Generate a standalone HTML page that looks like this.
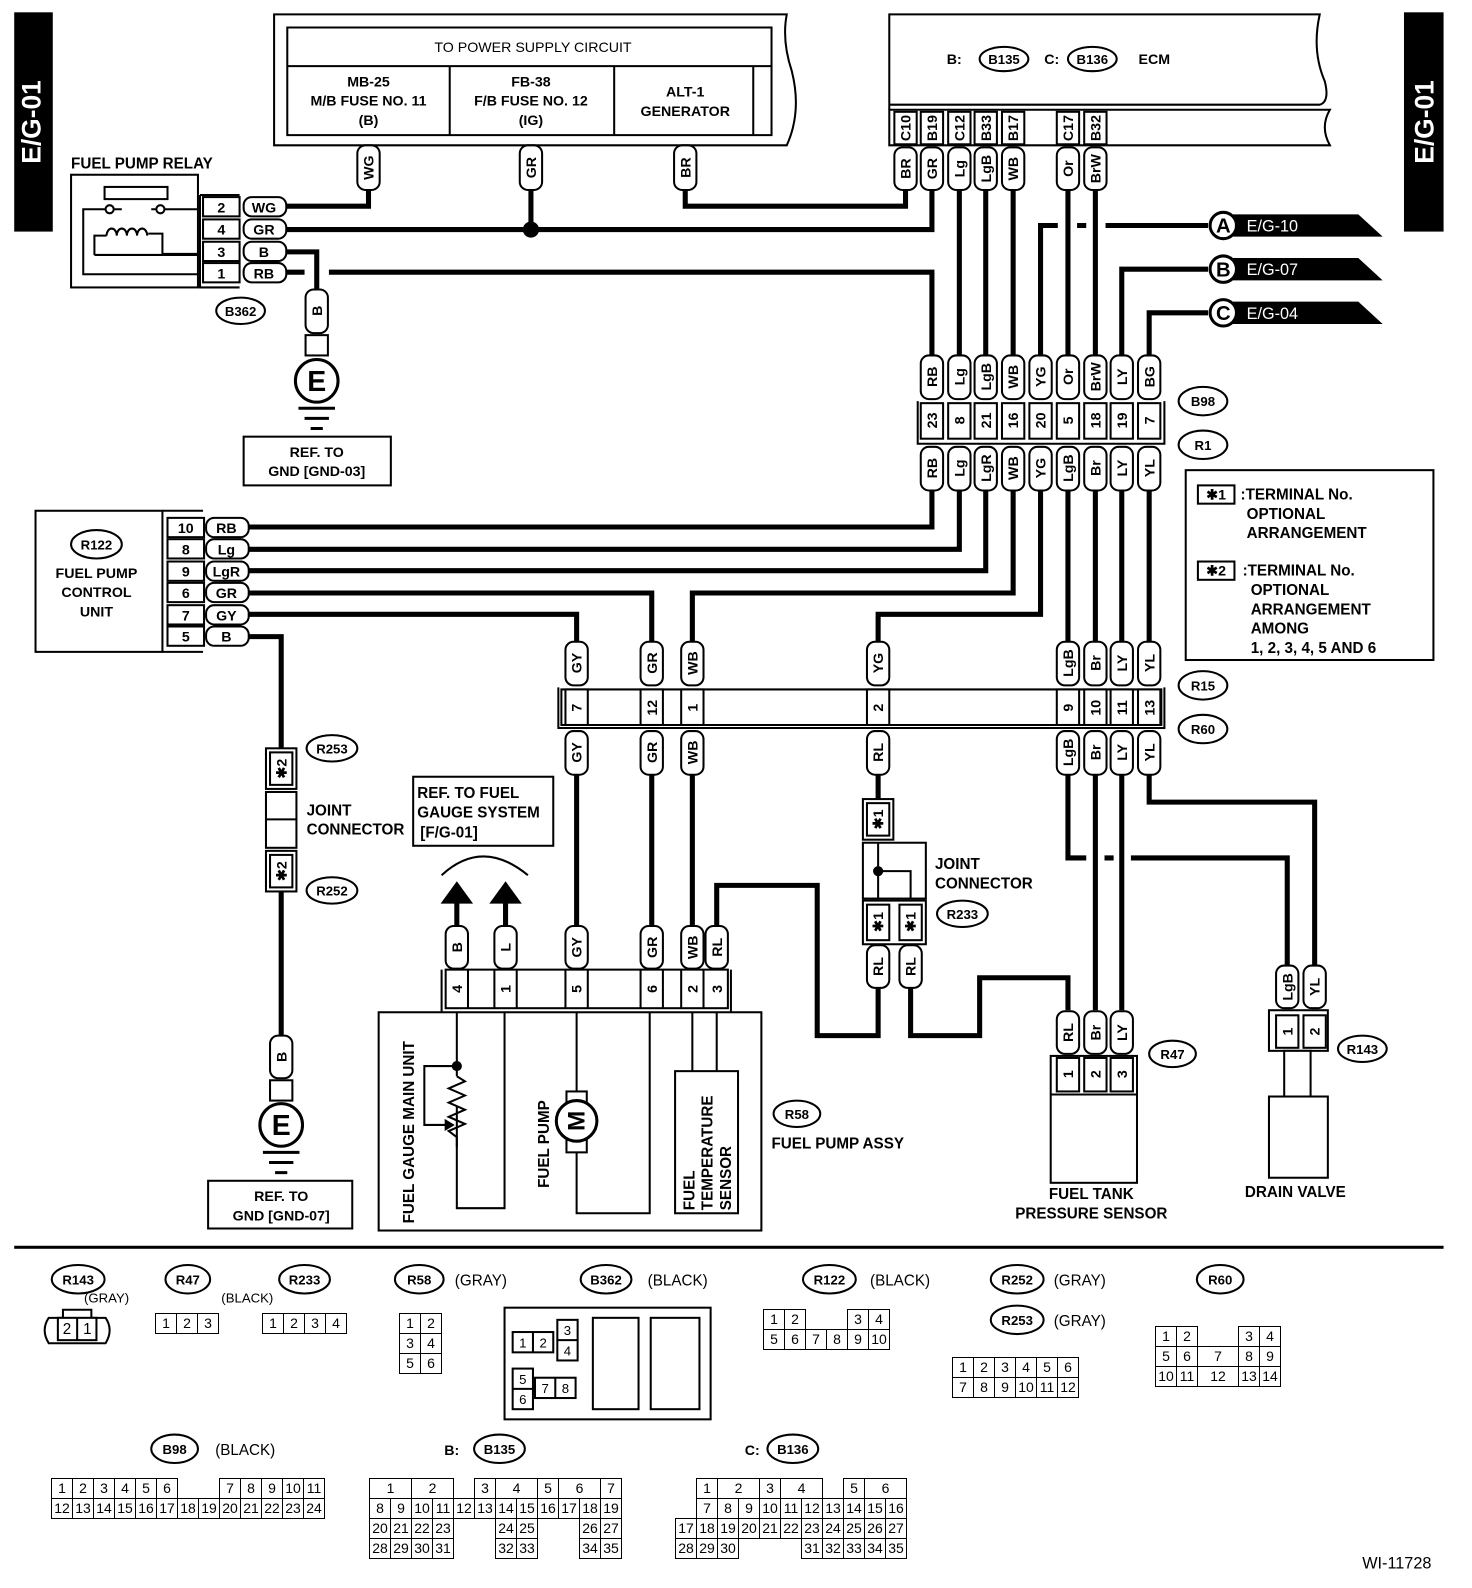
<!DOCTYPE html>
<html><head><meta charset="utf-8"><style>
html,body{margin:0;padding:0;background:#fff;width:1472px;height:1588px;overflow:hidden}
svg{display:block}
text{font-family:"Liberation Sans",Arial,sans-serif;font-weight:bold;fill:#000}
.w{fill:none;stroke:#000;stroke-width:5}
.b{fill:#fff;stroke:#000;stroke-width:2}
.n{fill:none;stroke:#000;stroke-width:2}
.t{font-size:14px;text-anchor:middle}
.s{font-size:13px;text-anchor:middle;font-weight:normal}
.l{font-size:15px}
</style></head><body>
<svg width="1472" height="1588" viewBox="0 0 1450 1564" xmlns="http://www.w3.org/2000/svg">
<rect width="1450" height="1564" fill="#fff"/>
<rect x="14" y="12" width="38" height="216" fill="#000"/>
<text transform="translate(40,120) rotate(-90)" class="t" style="fill:#fff;font-size:26px">E/G-01</text>
<rect x="1383" y="12" width="39" height="216" fill="#000"/>
<text transform="translate(1412,120) rotate(-90)" class="t" style="fill:#fff;font-size:26px">E/G-01</text>

<path class="n" d="M270 143 V14 H775 Q770 40 780 70 Q790 110 775 143 Z"/>
<path class="n" d="M283 133 V27 H760 V133 Z M283 65 H760 M443 65 V133 M605 65 V133 M742 65 V133"/>
<text x="525" y="51" class="s" style="font-size:14px">TO POWER SUPPLY CIRCUIT</text>
<text x="363" y="85" class="t">MB-25</text><text x="363" y="104" class="t">M/B FUSE NO. 11</text><text x="363" y="123" class="t">(B)</text>
<text x="523" y="85" class="t">FB-38</text><text x="523" y="104" class="t">F/B FUSE NO. 12</text><text x="523" y="123" class="t">(IG)</text>
<text x="675" y="95" class="t">ALT-1</text><text x="675" y="114" class="t">GENERATOR</text>

<path class="n" d="M876 108 V14 H1300 Q1292 50 1305 80 Q1310 100 1300 103 H876"/>
<path class="n" d="M876 108 H1310 Q1300 125 1310 143 H876 Z"/>
<text x="940" y="63" class="t">B:</text>
<ellipse cx="989" cy="58" rx="24" ry="12" class="b"/><text x="989" y="63" class="t" style="font-size:13px">B135</text>
<text x="1036" y="63" class="t">C:</text>
<ellipse cx="1076" cy="58" rx="24" ry="12" class="b"/><text x="1076" y="63" class="t" style="font-size:13px">B136</text>
<text x="1137" y="63" class="t">ECM</text>

<g class="w">
<path d="M363 186 V203 H280"/>
<path d="M523 186 V226"/>
<path d="M280 226 H918 V186"/>
<path d="M675 186 V203 H892 V186"/>
<path d="M280 268 H300 M324 268 H918 V350"/>
<path d="M280 248 H312 V285"/>
<path d="M945 186 V350 M971 186 V350 M998 186 V350 M1052 186 V350 M1079 186 V350"/>
<path d="M1025 350 V222 H1042 M1061 222 H1070 M1089 222 H1190"/>
<path d="M1105 350 V265 H1190"/>
<path d="M1132 350 V308 H1190"/>
<path d="M918 483 V519 H243"/>
<path d="M945 483 V541 H243"/>
<path d="M971 483 V562 H243"/>
<path d="M998 483 V584 H682 V632"/>
<path d="M243 584 H642 V632"/>
<path d="M1025 483 V605 H865 V632"/>
<path d="M243 605 H568 V632"/>
<path d="M1052 483 V632 M1079 483 V632 M1105 483 V632 M1132 483 V632"/>
<path d="M243 627 H277 V737 M277 878 V1020"/>
<path d="M568 763 V912 M642 763 V912 M682 763 V912"/>
<path d="M865 763 V787"/>
<path d="M865 972 V1020 H805 V872 H706 V912"/>
<path d="M897 972 V1020 H965 V963 H1052 V995"/>
<path d="M1052 763 V845 H1070 M1088 845 H1097 M1114 845 H1268 V950"/>
<path d="M1132 763 V790 H1295 V950"/>
<path d="M1079 763 V995 M1105 763 V995"/>
<path d="M450 912 V885 M498 912 V885"/>
</g>
<circle cx="523" cy="226" r="8"/>

<g>
<path d="M1210 211 H1338 L1362 233 H1210 Z"/><circle cx="1205" cy="222" r="13" class="b" style="stroke-width:3"/><text x="1205" y="229" class="t" style="font-size:20px">A</text><text x="1228" y="228" style="fill:#fff;font-size:16px;font-weight:normal">E/G-10</text>
<path d="M1210 254 H1338 L1362 276 H1210 Z"/><circle cx="1205" cy="265" r="13" class="b" style="stroke-width:3"/><text x="1205" y="272" class="t" style="font-size:20px">B</text><text x="1228" y="271" style="fill:#fff;font-size:16px;font-weight:normal">E/G-07</text>
<path d="M1210 297 H1338 L1362 319 H1210 Z"/><circle cx="1205" cy="308" r="13" class="b" style="stroke-width:3"/><text x="1205" y="315" class="t" style="font-size:20px">C</text><text x="1228" y="314" style="fill:#fff;font-size:16px;font-weight:normal">E/G-04</text>
</g>

<g>
<rect x="352" y="143" width="22" height="44" rx="8" class="b"/><text transform="translate(363,165) rotate(-90)" dy="5" class="t">WG</text>
<rect x="512" y="143" width="22" height="44" rx="8" class="b"/><text transform="translate(523,165) rotate(-90)" dy="5" class="t">GR</text>
<rect x="664" y="143" width="22" height="44" rx="8" class="b"/><text transform="translate(675,165) rotate(-90)" dy="5" class="t">BR</text>
<rect x="881" y="110" width="22" height="32" class="b"/><text transform="translate(892,126) rotate(-90)" dy="5" class="t">C10</text>
<rect x="907" y="110" width="22" height="32" class="b"/><text transform="translate(918,126) rotate(-90)" dy="5" class="t">B19</text>
<rect x="934" y="110" width="22" height="32" class="b"/><text transform="translate(945,126) rotate(-90)" dy="5" class="t">C12</text>
<rect x="960" y="110" width="22" height="32" class="b"/><text transform="translate(971,126) rotate(-90)" dy="5" class="t">B33</text>
<rect x="987" y="110" width="22" height="32" class="b"/><text transform="translate(998,126) rotate(-90)" dy="5" class="t">B17</text>
<rect x="1041" y="110" width="22" height="32" class="b"/><text transform="translate(1052,126) rotate(-90)" dy="5" class="t">C17</text>
<rect x="1068" y="110" width="22" height="32" class="b"/><text transform="translate(1079,126) rotate(-90)" dy="5" class="t">B32</text>
<rect x="881" y="145" width="22" height="42" rx="8" class="b"/><text transform="translate(892,166) rotate(-90)" dy="5" class="t">BR</text>
<rect x="907" y="145" width="22" height="42" rx="8" class="b"/><text transform="translate(918,166) rotate(-90)" dy="5" class="t">GR</text>
<rect x="934" y="145" width="22" height="42" rx="8" class="b"/><text transform="translate(945,166) rotate(-90)" dy="5" class="t">Lg</text>
<rect x="960" y="145" width="22" height="42" rx="8" class="b"/><text transform="translate(971,166) rotate(-90)" dy="5" class="t">LgB</text>
<rect x="987" y="145" width="22" height="42" rx="8" class="b"/><text transform="translate(998,166) rotate(-90)" dy="5" class="t">WB</text>
<rect x="1041" y="145" width="22" height="42" rx="8" class="b"/><text transform="translate(1052,166) rotate(-90)" dy="5" class="t">Or</text>
<rect x="1068" y="145" width="22" height="42" rx="8" class="b"/><text transform="translate(1079,166) rotate(-90)" dy="5" class="t">BrW</text>
</g>

<g>
<rect x="907" y="350" width="22" height="43" rx="8" class="b"/><text transform="translate(918,371) rotate(-90)" dy="5" class="t">RB</text>
<rect x="934" y="350" width="22" height="43" rx="8" class="b"/><text transform="translate(945,371) rotate(-90)" dy="5" class="t">Lg</text>
<rect x="960" y="350" width="22" height="43" rx="8" class="b"/><text transform="translate(971,371) rotate(-90)" dy="5" class="t">LgB</text>
<rect x="987" y="350" width="22" height="43" rx="8" class="b"/><text transform="translate(998,371) rotate(-90)" dy="5" class="t">WB</text>
<rect x="1014" y="350" width="22" height="43" rx="8" class="b"/><text transform="translate(1025,371) rotate(-90)" dy="5" class="t">YG</text>
<rect x="1041" y="350" width="22" height="43" rx="8" class="b"/><text transform="translate(1052,371) rotate(-90)" dy="5" class="t">Or</text>
<rect x="1068" y="350" width="22" height="43" rx="8" class="b"/><text transform="translate(1079,371) rotate(-90)" dy="5" class="t">BrW</text>
<rect x="1094" y="350" width="22" height="43" rx="8" class="b"/><text transform="translate(1105,371) rotate(-90)" dy="5" class="t">LY</text>
<rect x="1121" y="350" width="22" height="43" rx="8" class="b"/><text transform="translate(1132,371) rotate(-90)" dy="5" class="t">BG</text>
<path class="n" d="M904 395 V437 H1147 V395"/>
<rect x="907" y="397" width="22" height="35" class="b"/><text transform="translate(918,414) rotate(-90)" dy="5" class="t">23</text>
<rect x="934" y="397" width="22" height="35" class="b"/><text transform="translate(945,414) rotate(-90)" dy="5" class="t">8</text>
<rect x="960" y="397" width="22" height="35" class="b"/><text transform="translate(971,414) rotate(-90)" dy="5" class="t">21</text>
<rect x="987" y="397" width="22" height="35" class="b"/><text transform="translate(998,414) rotate(-90)" dy="5" class="t">16</text>
<rect x="1014" y="397" width="22" height="35" class="b"/><text transform="translate(1025,414) rotate(-90)" dy="5" class="t">20</text>
<rect x="1041" y="397" width="22" height="35" class="b"/><text transform="translate(1052,414) rotate(-90)" dy="5" class="t">5</text>
<rect x="1068" y="397" width="22" height="35" class="b"/><text transform="translate(1079,414) rotate(-90)" dy="5" class="t">18</text>
<rect x="1094" y="397" width="22" height="35" class="b"/><text transform="translate(1105,414) rotate(-90)" dy="5" class="t">19</text>
<rect x="1121" y="397" width="22" height="35" class="b"/><text transform="translate(1132,414) rotate(-90)" dy="5" class="t">7</text>
<rect x="907" y="440" width="22" height="43" rx="8" class="b"/><text transform="translate(918,461) rotate(-90)" dy="5" class="t">RB</text>
<rect x="934" y="440" width="22" height="43" rx="8" class="b"/><text transform="translate(945,461) rotate(-90)" dy="5" class="t">Lg</text>
<rect x="960" y="440" width="22" height="43" rx="8" class="b"/><text transform="translate(971,461) rotate(-90)" dy="5" class="t">LgR</text>
<rect x="987" y="440" width="22" height="43" rx="8" class="b"/><text transform="translate(998,461) rotate(-90)" dy="5" class="t">WB</text>
<rect x="1014" y="440" width="22" height="43" rx="8" class="b"/><text transform="translate(1025,461) rotate(-90)" dy="5" class="t">YG</text>
<rect x="1041" y="440" width="22" height="43" rx="8" class="b"/><text transform="translate(1052,461) rotate(-90)" dy="5" class="t">LgB</text>
<rect x="1068" y="440" width="22" height="43" rx="8" class="b"/><text transform="translate(1079,461) rotate(-90)" dy="5" class="t">Br</text>
<rect x="1094" y="440" width="22" height="43" rx="8" class="b"/><text transform="translate(1105,461) rotate(-90)" dy="5" class="t">LY</text>
<rect x="1121" y="440" width="22" height="43" rx="8" class="b"/><text transform="translate(1132,461) rotate(-90)" dy="5" class="t">YL</text>
<ellipse cx="1185" cy="395" rx="24" ry="14" class="b"/><text x="1185" y="400" class="t" style="font-size:13px">B98</text>
<ellipse cx="1185" cy="438" rx="24" ry="14" class="b"/><text x="1185" y="443" class="t" style="font-size:13px">R1</text>
</g>

<rect x="1168" y="463" width="244" height="187" class="b"/>
<rect x="1180" y="478" width="36" height="18" class="b"/><text x="1198" y="492" class="t">✱1</text>
<text x="1222" y="492" class="l">:TERMINAL No.</text><text x="1228" y="511" class="l">OPTIONAL</text><text x="1228" y="530" class="l">ARRANGEMENT</text>
<rect x="1180" y="553" width="36" height="18" class="b"/><text x="1198" y="567" class="t">✱2</text>
<text x="1224" y="567" class="l">:TERMINAL No.</text><text x="1232" y="586" class="l">OPTIONAL</text><text x="1232" y="605" class="l">ARRANGEMENT</text><text x="1232" y="624" class="l">AMONG</text><text x="1232" y="643" class="l">1, 2, 3, 4, 5 AND 6</text>

<text x="70" y="166" class="l">FUEL PUMP RELAY</text>
<rect x="70" y="172" width="125" height="111" class="b"/>
<rect x="103" y="184" width="62" height="12" class="b"/>
<circle cx="108" cy="206" r="4" class="b"/><circle cx="158" cy="206" r="4" class="b"/>
<path class="n" d="M112 206 H120 M154 206 H149 M162 206 H195 M104 206 H82 V270 H195 M93 251 V232 H105 M146 230 H160 V250 H195 M93 251 H195"/>
<path class="n" d="M105 232 a5 7 0 1 1 10 0 a5 7 0 1 1 10 0 a5 7 0 1 1 10 0 a5 7 0 1 1 10 0"/>
<path class="n" d="M197 192 V283 H236 M197 192 H236"/>
<g>
<rect x="200" y="194" width="36" height="19" class="b"/><text x="218" y="209" class="t">2</text>
<rect x="200" y="216" width="36" height="19" class="b"/><text x="218" y="231" class="t">4</text>
<rect x="200" y="238" width="36" height="19" class="b"/><text x="218" y="253" class="t">3</text>
<rect x="200" y="259" width="36" height="19" class="b"/><text x="218" y="274" class="t">1</text>
<rect x="240" y="194" width="42" height="19" rx="8" class="b"/><text x="260" y="209" class="t">WG</text>
<rect x="240" y="216" width="42" height="19" rx="8" class="b"/><text x="260" y="231" class="t">GR</text>
<rect x="240" y="238" width="42" height="19" rx="8" class="b"/><text x="260" y="253" class="t">B</text>
<rect x="240" y="259" width="42" height="19" rx="8" class="b"/><text x="260" y="274" class="t">RB</text>
</g>
<ellipse cx="237" cy="306" rx="24" ry="13" class="b"/><text x="237" y="311" class="t" style="font-size:13px">B362</text>
<rect x="301" y="285" width="22" height="43" rx="8" class="b"/><text transform="translate(312,306) rotate(-90)" dy="5" class="t">B</text>
<rect x="301" y="330" width="22" height="20" class="b"/>
<circle cx="312" cy="375" r="21" class="b" style="stroke-width:3"/><text x="312" y="385" class="t" style="font-size:28px">E</text>
<path class="n" d="M294 402 H330 M300 412 H324 M306 422 H318" style="stroke-width:3"/>
<rect x="240" y="430" width="145" height="48" class="b"/><text x="312" y="450" class="t">REF. TO</text><text x="312" y="469" class="t">GND [GND-03]</text>

<rect x="35" y="503" width="125" height="139" class="b"/>
<path class="n" d="M160 503 H200 M160 642 H200"/>
<ellipse cx="95" cy="536" rx="25" ry="14" class="b"/><text x="95" y="541" class="t" style="font-size:13px">R122</text>
<text x="95" y="569" class="t">FUEL PUMP</text><text x="95" y="588" class="t">CONTROL</text><text x="95" y="607" class="t">UNIT</text>
<g>
<rect x="165" y="510" width="36" height="19" class="b"/><text x="183" y="525" class="t">10</text>
<rect x="165" y="531" width="36" height="19" class="b"/><text x="183" y="546" class="t">8</text>
<rect x="165" y="553" width="36" height="19" class="b"/><text x="183" y="568" class="t">9</text>
<rect x="165" y="574" width="36" height="19" class="b"/><text x="183" y="589" class="t">6</text>
<rect x="165" y="596" width="36" height="19" class="b"/><text x="183" y="611" class="t">7</text>
<rect x="165" y="617" width="36" height="19" class="b"/><text x="183" y="632" class="t">5</text>
<rect x="203" y="510" width="42" height="19" rx="8" class="b"/><text x="223" y="525" class="t">RB</text>
<rect x="203" y="531" width="42" height="19" rx="8" class="b"/><text x="223" y="546" class="t">Lg</text>
<rect x="203" y="553" width="42" height="19" rx="8" class="b"/><text x="223" y="568" class="t">LgR</text>
<rect x="203" y="574" width="42" height="19" rx="8" class="b"/><text x="223" y="589" class="t">GR</text>
<rect x="203" y="596" width="42" height="19" rx="8" class="b"/><text x="223" y="611" class="t">GY</text>
<rect x="203" y="617" width="42" height="19" rx="8" class="b"/><text x="223" y="632" class="t">B</text>
</g>

<rect x="262" y="737" width="30" height="40" class="b"/><rect x="266" y="741" width="22" height="32" class="b"/><text transform="translate(277,757) rotate(-90)" dy="5" class="t">✱2</text>
<rect x="262" y="780" width="30" height="55" class="b"/><path class="n" d="M262 807 H292"/>
<rect x="262" y="838" width="30" height="40" class="b"/><rect x="266" y="842" width="22" height="32" class="b"/><text transform="translate(277,858) rotate(-90)" dy="5" class="t">✱2</text>
<ellipse cx="327" cy="737" rx="25" ry="13" class="b"/><text x="327" y="742" class="t" style="font-size:13px">R253</text>
<ellipse cx="327" cy="877" rx="25" ry="13" class="b"/><text x="327" y="882" class="t" style="font-size:13px">R252</text>
<text x="302" y="803" class="l">JOINT</text><text x="302" y="822" class="l">CONNECTOR</text>
<rect x="266" y="1020" width="22" height="42" rx="8" class="b"/><text transform="translate(277,1041) rotate(-90)" dy="5" class="t">B</text>
<rect x="266" y="1064" width="22" height="20" class="b"/>
<circle cx="277" cy="1108" r="21" class="b" style="stroke-width:3"/><text x="277" y="1118" class="t" style="font-size:28px">E</text>
<path class="n" d="M259 1135 H295 M265 1145 H289 M271 1155 H283" style="stroke-width:3"/>
<rect x="205" y="1163" width="142" height="47" class="b"/><text x="277" y="1183" class="t">REF. TO</text><text x="277" y="1202" class="t">GND [GND-07]</text>

<rect x="407" y="765" width="138" height="68" class="b"/>
<text x="411" y="786" class="l">REF. TO FUEL</text><text x="411" y="805" class="l">GAUGE SYSTEM</text><text x="414" y="825" class="l">[F/G-01]</text>

<g>
<rect x="557" y="632" width="22" height="43" rx="8" class="b"/><text transform="translate(568,653) rotate(-90)" dy="5" class="t">GY</text>
<rect x="631" y="632" width="22" height="43" rx="8" class="b"/><text transform="translate(642,653) rotate(-90)" dy="5" class="t">GR</text>
<rect x="671" y="632" width="22" height="43" rx="8" class="b"/><text transform="translate(682,653) rotate(-90)" dy="5" class="t">WB</text>
<rect x="854" y="632" width="22" height="43" rx="8" class="b"/><text transform="translate(865,653) rotate(-90)" dy="5" class="t">YG</text>
<rect x="1041" y="632" width="22" height="43" rx="8" class="b"/><text transform="translate(1052,653) rotate(-90)" dy="5" class="t">LgB</text>
<rect x="1068" y="632" width="22" height="43" rx="8" class="b"/><text transform="translate(1079,653) rotate(-90)" dy="5" class="t">Br</text>
<rect x="1094" y="632" width="22" height="43" rx="8" class="b"/><text transform="translate(1105,653) rotate(-90)" dy="5" class="t">LY</text>
<rect x="1121" y="632" width="22" height="43" rx="8" class="b"/><text transform="translate(1132,653) rotate(-90)" dy="5" class="t">YL</text>
<path class="n" d="M550 677 V717 H1147 V677 M553 679 H1144 V714 H553 Z"/>
<rect x="557" y="679" width="22" height="35" class="b"/><text transform="translate(568,697) rotate(-90)" dy="5" class="t">7</text>
<rect x="631" y="679" width="22" height="35" class="b"/><text transform="translate(642,697) rotate(-90)" dy="5" class="t">12</text>
<rect x="671" y="679" width="22" height="35" class="b"/><text transform="translate(682,697) rotate(-90)" dy="5" class="t">1</text>
<rect x="854" y="679" width="22" height="35" class="b"/><text transform="translate(865,697) rotate(-90)" dy="5" class="t">2</text>
<rect x="1041" y="679" width="22" height="35" class="b"/><text transform="translate(1052,697) rotate(-90)" dy="5" class="t">9</text>
<rect x="1068" y="679" width="22" height="35" class="b"/><text transform="translate(1079,697) rotate(-90)" dy="5" class="t">10</text>
<rect x="1094" y="679" width="22" height="35" class="b"/><text transform="translate(1105,697) rotate(-90)" dy="5" class="t">11</text>
<rect x="1121" y="679" width="22" height="35" class="b"/><text transform="translate(1132,697) rotate(-90)" dy="5" class="t">13</text>
<rect x="557" y="720" width="22" height="43" rx="8" class="b"/><text transform="translate(568,741) rotate(-90)" dy="5" class="t">GY</text>
<rect x="631" y="720" width="22" height="43" rx="8" class="b"/><text transform="translate(642,741) rotate(-90)" dy="5" class="t">GR</text>
<rect x="671" y="720" width="22" height="43" rx="8" class="b"/><text transform="translate(682,741) rotate(-90)" dy="5" class="t">WB</text>
<rect x="854" y="720" width="22" height="43" rx="8" class="b"/><text transform="translate(865,741) rotate(-90)" dy="5" class="t">RL</text>
<rect x="1041" y="720" width="22" height="43" rx="8" class="b"/><text transform="translate(1052,741) rotate(-90)" dy="5" class="t">LgB</text>
<rect x="1068" y="720" width="22" height="43" rx="8" class="b"/><text transform="translate(1079,741) rotate(-90)" dy="5" class="t">Br</text>
<rect x="1094" y="720" width="22" height="43" rx="8" class="b"/><text transform="translate(1105,741) rotate(-90)" dy="5" class="t">LY</text>
<rect x="1121" y="720" width="22" height="43" rx="8" class="b"/><text transform="translate(1132,741) rotate(-90)" dy="5" class="t">YL</text>
<ellipse cx="1185" cy="675" rx="24" ry="14" class="b"/><text x="1185" y="680" class="t" style="font-size:13px">R15</text>
<ellipse cx="1185" cy="718" rx="24" ry="14" class="b"/><text x="1185" y="723" class="t" style="font-size:13px">R60</text>
</g>

<rect x="850" y="787" width="30" height="40" class="b"/><rect x="854" y="791" width="22" height="32" class="b"/><text transform="translate(865,807) rotate(-90)" dy="5" class="t">✱1</text>
<rect x="850" y="830" width="62" height="55" class="b"/>
<path class="n" d="M865 830 V858 H897 V885"/><circle cx="865" cy="858" r="5"/><path class="n" d="M865 858 V885"/>
<rect x="850" y="887" width="62" height="43" class="b"/>
<rect x="854" y="891" width="22" height="35" class="b"/><text transform="translate(865,908) rotate(-90)" dy="5" class="t">✱1</text>
<rect x="886" y="891" width="22" height="35" class="b"/><text transform="translate(897,908) rotate(-90)" dy="5" class="t">✱1</text>
<rect x="854" y="931" width="22" height="42" rx="8" class="b"/><text transform="translate(865,952) rotate(-90)" dy="5" class="t">RL</text>
<rect x="886" y="931" width="22" height="42" rx="8" class="b"/><text transform="translate(897,952) rotate(-90)" dy="5" class="t">RL</text>
<text x="921" y="856" class="l">JOINT</text><text x="921" y="875" class="l">CONNECTOR</text>
<ellipse cx="948" cy="900" rx="25" ry="13" class="b"/><text x="948" y="905" class="t" style="font-size:13px">R233</text>

<rect x="1041" y="996" width="22" height="42" rx="8" class="b"/><text transform="translate(1052,1017) rotate(-90)" dy="5" class="t">RL</text>
<rect x="1068" y="996" width="22" height="42" rx="8" class="b"/><text transform="translate(1079,1017) rotate(-90)" dy="5" class="t">Br</text>
<rect x="1094" y="996" width="22" height="42" rx="8" class="b"/><text transform="translate(1105,1017) rotate(-90)" dy="5" class="t">LY</text>
<rect x="1035" y="1040" width="85" height="125" class="b"/>
<path class="n" d="M1035 1078 H1120"/>
<rect x="1041" y="1042" width="22" height="33" class="b"/><text transform="translate(1052,1058) rotate(-90)" dy="5" class="t">1</text>
<rect x="1068" y="1042" width="22" height="33" class="b"/><text transform="translate(1079,1058) rotate(-90)" dy="5" class="t">2</text>
<rect x="1094" y="1042" width="22" height="33" class="b"/><text transform="translate(1105,1058) rotate(-90)" dy="5" class="t">3</text>
<ellipse cx="1155" cy="1038" rx="23" ry="13" class="b"/><text x="1155" y="1043" class="t" style="font-size:13px">R47</text>
<text x="1075" y="1181" class="t" style="font-size:15px">FUEL TANK</text><text x="1075" y="1200" class="t" style="font-size:15px">PRESSURE SENSOR</text>

<rect x="1257" y="951" width="22" height="42" rx="8" class="b"/><text transform="translate(1268,972) rotate(-90)" dy="5" class="t">LgB</text>
<rect x="1284" y="951" width="22" height="42" rx="8" class="b"/><text transform="translate(1295,972) rotate(-90)" dy="5" class="t">YL</text>
<rect x="1250" y="995" width="58" height="40" class="b"/>
<rect x="1257" y="1000" width="22" height="32" class="b"/><text transform="translate(1268,1016) rotate(-90)" dy="5" class="t">1</text>
<rect x="1284" y="1000" width="22" height="32" class="b"/><text transform="translate(1295,1016) rotate(-90)" dy="5" class="t">2</text>
<rect x="1265" y="1035" width="26" height="45" class="b"/>
<rect x="1250" y="1080" width="58" height="80" class="b"/>
<ellipse cx="1342" cy="1033" rx="24" ry="13" class="b"/><text x="1342" y="1038" class="t" style="font-size:13px">R143</text>
<text x="1276" y="1179" class="t" style="font-size:15px">DRAIN VALVE</text>

<path class="n" d="M435 862 Q475 825 520 862"/>
<polygon points="434,890 466,890 450,868"/><polygon points="482,890 514,890 498,868"/>
<rect x="439" y="912" width="22" height="42" rx="8" class="b"/><text transform="translate(450,933) rotate(-90)" dy="5" class="t">B</text>
<rect x="487" y="912" width="22" height="42" rx="8" class="b"/><text transform="translate(498,933) rotate(-90)" dy="5" class="t">L</text>
<rect x="557" y="912" width="22" height="42" rx="8" class="b"/><text transform="translate(568,933) rotate(-90)" dy="5" class="t">GY</text>
<rect x="631" y="912" width="22" height="42" rx="8" class="b"/><text transform="translate(642,933) rotate(-90)" dy="5" class="t">GR</text>
<rect x="671" y="912" width="22" height="42" rx="8" class="b"/><text transform="translate(682,933) rotate(-90)" dy="5" class="t">WB</text>
<rect x="695" y="912" width="22" height="42" rx="8" class="b"/><text transform="translate(706,933) rotate(-90)" dy="5" class="t">RL</text>
<path class="n" d="M435 955 V997 M720 955 V997"/>
<rect x="439" y="955" width="278" height="38" class="b"/>
<path class="n" d="M461 955 V993 M487 955 V993 M509 955 V993 M557 955 V993 M579 955 V993 M631 955 V993 M653 955 V993 M671 955 V993 M693 955 V993"/>
<text transform="translate(450,974) rotate(-90)" dy="5" class="t">4</text>
<text transform="translate(498,974) rotate(-90)" dy="5" class="t">1</text>
<text transform="translate(568,974) rotate(-90)" dy="5" class="t">5</text>
<text transform="translate(642,974) rotate(-90)" dy="5" class="t">6</text>
<text transform="translate(682,974) rotate(-90)" dy="5" class="t">2</text>
<text transform="translate(706,974) rotate(-90)" dy="5" class="t">3</text>
<rect x="373" y="997" width="377" height="215" class="b"/>
<path class="n" d="M450 997 V1060 M450 1090 V1190 H497 V997"/>
<path class="n" d="M450 1050 H418 V1108 H440 M450 1060 L458 1065 L442 1072 L458 1079 L442 1086 L458 1093 L442 1100 L458 1107 L442 1114 L450 1120 V1130"/>
<circle cx="450" cy="1050" r="5"/><polygon points="438,1102 448,1108 438,1114"/>
<path class="n" d="M568 997 V1075 M568 1135 V1195 H640 V997"/>
<rect x="558" y="1075" width="20" height="60" class="b"/>
<circle cx="568" cy="1104" r="20" class="b" style="stroke-width:3"/><text transform="translate(568,1104) rotate(-90)" dy="8" class="t" style="font-size:24px">M</text>
<path class="n" d="M682 997 V1055 M706 997 V1055"/>
<rect x="665" y="1055" width="62" height="140" class="b"/>
<text transform="translate(408,1205) rotate(-90)" class="l">FUEL GAUGE MAIN UNIT</text>
<text transform="translate(541,1170) rotate(-90)" class="l">FUEL PUMP</text>
<text transform="translate(684,1192) rotate(-90)" class="l">FUEL</text>
<text transform="translate(702,1192) rotate(-90)" class="l">TEMPERATURE</text>
<text transform="translate(720,1192) rotate(-90)" class="l">SENSOR</text>
<ellipse cx="785" cy="1097" rx="23" ry="13" class="b"/><text x="785" y="1102" class="t" style="font-size:13px">R58</text>
<text x="760" y="1131" class="l">FUEL PUMP ASSY</text>

<rect x="14" y="1227" width="1408" height="3"/>

<g>
<ellipse cx="77" cy="1260" rx="26" ry="14" class="b"/><text x="77" y="1265" class="t" style="font-size:13px">R143</text>
<text x="105" y="1283" class="s">(GRAY)</text>
<ellipse cx="185" cy="1260" rx="22" ry="14" class="b"/><text x="185" y="1265" class="t" style="font-size:13px">R47</text>
<text x="218" y="1283" class="s" style="text-anchor:start">(BLACK)</text>
<ellipse cx="300" cy="1260" rx="25" ry="14" class="b"/><text x="300" y="1265" class="t" style="font-size:13px">R233</text>
<ellipse cx="413" cy="1260" rx="24" ry="14" class="b"/><text x="413" y="1265" class="t" style="font-size:13px">R58</text>
<text x="448" y="1266" class="s" style="text-anchor:start;font-size:15px">(GRAY)</text>
<ellipse cx="597" cy="1260" rx="25" ry="14" class="b"/><text x="597" y="1265" class="t" style="font-size:13px">B362</text>
<text x="638" y="1266" class="s" style="text-anchor:start;font-size:15px">(BLACK)</text>
<ellipse cx="817" cy="1260" rx="26" ry="14" class="b"/><text x="817" y="1265" class="t" style="font-size:13px">R122</text>
<text x="857" y="1266" class="s" style="text-anchor:start;font-size:15px">(BLACK)</text>
<ellipse cx="1002" cy="1260" rx="26" ry="14" class="b"/><text x="1002" y="1265" class="t" style="font-size:13px">R252</text>
<text x="1038" y="1266" class="s" style="text-anchor:start;font-size:15px">(GRAY)</text>
<ellipse cx="1002" cy="1300" rx="26" ry="14" class="b"/><text x="1002" y="1305" class="t" style="font-size:13px">R253</text>
<text x="1038" y="1306" class="s" style="text-anchor:start;font-size:15px">(GRAY)</text>
<ellipse cx="1202" cy="1260" rx="23" ry="14" class="b"/><text x="1202" y="1265" class="t" style="font-size:13px">R60</text>
<ellipse cx="172" cy="1427" rx="23" ry="14" class="b"/><text x="172" y="1432" class="t" style="font-size:13px">B98</text>
<text x="212" y="1433" class="s" style="text-anchor:start;font-size:15px">(BLACK)</text>
<text x="445" y="1433" class="t">B:</text>
<ellipse cx="492" cy="1427" rx="25" ry="14" class="b"/><text x="492" y="1432" class="t" style="font-size:13px">B135</text>
<text x="741" y="1433" class="t">C:</text>
<ellipse cx="781" cy="1427" rx="25" ry="14" class="b"/><text x="781" y="1432" class="t" style="font-size:13px">B136</text>
<text x="1410" y="1545" class="s" style="text-anchor:end;font-size:16px">WI-11728</text>
</g>

<path class="n" d="M48 1298 H62 V1290 H90 V1298 H104 Q112 1310 104 1323 H48 Q40 1310 48 1298 Z"/>
<rect x="57" y="1298" width="38" height="22" class="b"/><path class="n" d="M76 1298 V1320"/>
<text x="66" y="1314" class="s" style="font-size:15px">2</text><text x="86" y="1314" class="s" style="font-size:15px">1</text>
<rect x="497" y="1288" width="203" height="110" class="b"/>
<rect x="584" y="1298" width="45" height="90" class="b"/><rect x="641" y="1298" width="48" height="90" class="b"/>
<rect x="505" y="1312" width="40" height="20" class="b"/><path class="n" d="M525 1312 V1332"/><text x="515" y="1327" class="s">1</text><text x="535" y="1327" class="s">2</text>
<rect x="549" y="1300" width="20" height="40" class="b"/><path class="n" d="M549 1320 H569"/><text x="559" y="1315" class="s">3</text><text x="559" y="1335" class="s">4</text>
<rect x="505" y="1348" width="20" height="40" class="b"/><path class="n" d="M505 1368 H525"/><text x="515" y="1363" class="s">5</text><text x="515" y="1383" class="s">6</text>
<rect x="527" y="1357" width="40" height="20" class="b"/><path class="n" d="M547 1357 V1377"/><text x="537" y="1372" class="s">7</text><text x="557" y="1372" class="s">8</text>
</svg>

<style>
.g{position:absolute;border-collapse:collapse;font:14px "Liberation Sans",Arial,sans-serif}
.g td{border:1.5px solid #000;width:20px;height:19px;padding:0;text-align:center;line-height:19px;background:#fff}
.g td.e{border:none;background:transparent}
</style>
<table class="g" style="left:155px;top:1313px"><tr><td>1</td><td>2</td><td>3</td></tr></table>
<table class="g" style="left:262px;top:1313px"><tr><td>1</td><td>2</td><td>3</td><td>4</td></tr></table>
<table class="g" style="left:399px;top:1313px"><tr><td>1</td><td>2</td></tr><tr><td>3</td><td>4</td></tr><tr><td>5</td><td>6</td></tr></table>
<table class="g" style="left:763px;top:1309px"><tr><td>1</td><td>2</td><td class="e" colspan="2"></td><td>3</td><td>4</td></tr><tr><td>5</td><td>6</td><td>7</td><td>8</td><td>9</td><td>10</td></tr></table>
<table class="g" style="left:952px;top:1357px"><tr><td>1</td><td>2</td><td>3</td><td>4</td><td>5</td><td>6</td></tr><tr><td>7</td><td>8</td><td>9</td><td>10</td><td>11</td><td>12</td></tr></table>
<table class="g" style="left:1155px;top:1326px"><tr><td>1</td><td>2</td><td class="e" style="width:40px"></td><td>3</td><td>4</td></tr><tr><td>5</td><td>6</td><td>7</td><td>8</td><td>9</td></tr><tr><td>10</td><td>11</td><td>12</td><td>13</td><td>14</td></tr></table>
<table class="g" style="left:51px;top:1478px"><tr><td>1</td><td>2</td><td>3</td><td>4</td><td>5</td><td>6</td><td class="e" colspan="2"></td><td>7</td><td>8</td><td>9</td><td>10</td><td>11</td></tr><tr><td>12</td><td>13</td><td>14</td><td>15</td><td>16</td><td>17</td><td>18</td><td>19</td><td>20</td><td>21</td><td>22</td><td>23</td><td>24</td></tr></table>
<table class="g" style="left:369px;top:1478px"><tr><td colspan="2">1</td><td colspan="2">2</td><td class="e"></td><td>3</td><td colspan="2">4</td><td>5</td><td colspan="2">6</td><td>7</td></tr><tr><td>8</td><td>9</td><td>10</td><td>11</td><td>12</td><td>13</td><td>14</td><td>15</td><td>16</td><td>17</td><td>18</td><td>19</td></tr><tr><td>20</td><td>21</td><td>22</td><td>23</td><td class="e" colspan="2"></td><td>24</td><td>25</td><td class="e" colspan="2"></td><td>26</td><td>27</td></tr><tr><td>28</td><td>29</td><td>30</td><td>31</td><td class="e" colspan="2"></td><td>32</td><td>33</td><td class="e" colspan="2"></td><td>34</td><td>35</td></tr></table>
<table class="g" style="left:675px;top:1478px"><tr><td class="e"></td><td>1</td><td colspan="2">2</td><td>3</td><td colspan="2">4</td><td class="e"></td><td>5</td><td colspan="2">6</td></tr><tr><td class="e"></td><td>7</td><td>8</td><td>9</td><td>10</td><td>11</td><td>12</td><td>13</td><td>14</td><td>15</td><td>16</td></tr><tr><td>17</td><td>18</td><td>19</td><td>20</td><td>21</td><td>22</td><td>23</td><td>24</td><td>25</td><td>26</td><td>27</td></tr><tr><td>28</td><td>29</td><td>30</td><td class="e" colspan="3"></td><td>31</td><td>32</td><td>33</td><td>34</td><td>35</td></tr></table>
</body></html>
